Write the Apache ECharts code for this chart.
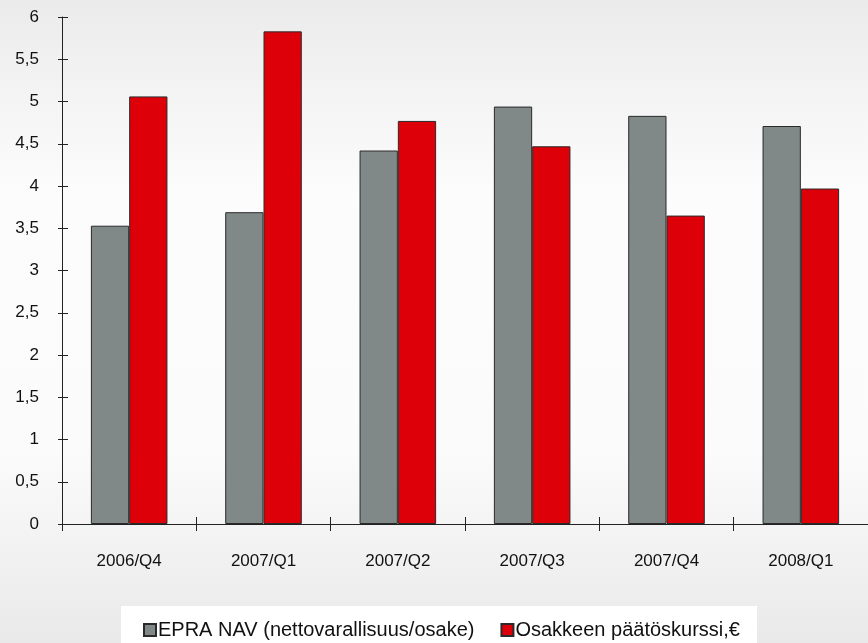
<!DOCTYPE html>
<html>
<head>
<meta charset="utf-8">
<script src="https://cdn.jsdelivr.net/npm/echarts@6/dist/echarts.min.js"></script>
<style>
  html, body { margin: 0; padding: 0; }
  #chart { width: 868px; height: 643px; }
</style>
</head>
<body>
<div id="chart"></div>
<script>
// Quarter labels on the category axis
const quarters = ['2006/Q4', '2007/Q1', '2007/Q2', '2007/Q3', '2007/Q4', '2008/Q1'];
// EPRA NAV per share
const navValues = [3.53, 3.69, 4.42, 4.94, 4.83, 4.71];
// Closing share price, EUR
const priceValues = [5.06, 5.83, 4.77, 4.47, 3.65, 3.97];
// Series names shown in the legend
const seriesNames = ['EPRA NAV (nettovarallisuus/osake)', 'Osakkeen päätöskurssi,€'];

const FONT = 'Liberation Sans, Arial, sans-serif';
const AXIS_COLOR = '#222';
const grid = { left: 62, top: 17, width: 810, height: 507 };

const chart = echarts.init(document.getElementById('chart'));
chart.setOption({
  animation: false,
  backgroundColor: {
    type: 'linear', x: 0, y: 0, x2: 0, y2: 1,
    colorStops: [
      { offset: 0, color: '#ebebeb' },
      { offset: 0.12, color: '#f2f2f2' },
      { offset: 0.3, color: '#fcfcfc' },
      { offset: 0.7, color: '#fbfbfb' },
      { offset: 1, color: '#e9e9e9' }
    ]
  },
  // white panel behind the legend
  graphic: [{
    type: 'rect', left: 121, top: 606, z: 0,
    shape: { width: 636, height: 37 },
    style: { fill: '#ffffff' }
  }],
  grid: grid,
  legend: {
    left: 143,
    top: 620,
    padding: 0,
    itemWidth: 12,
    itemHeight: 12,
    itemGap: 26,
    icon: 'rect',
    textStyle: { fontFamily: FONT, fontSize: 20, color: '#111', padding: [0, 0, 0, -3] },
    data: seriesNames
  },
  xAxis: [
    {
      type: 'category',
      data: quarters,
      boundaryGap: true,
      axisLine: { lineStyle: { color: AXIS_COLOR, width: 1 } },
      axisTick: { show: true, length: 7, lineStyle: { color: AXIS_COLOR } },
      axisLabel: { fontFamily: FONT, fontSize: 17, color: '#111', margin: 29 },
      splitLine: { show: false }
    },
    {
      // inward half of the crossing ticks
      type: 'category',
      data: quarters,
      position: 'bottom',
      boundaryGap: true,
      axisLine: { show: false },
      axisTick: { show: true, inside: true, length: 7, lineStyle: { color: AXIS_COLOR } },
      axisLabel: { show: false },
      splitLine: { show: false }
    }
  ],
  yAxis: [
    {
      type: 'value',
      min: 0,
      max: 6,
      interval: 0.5,
      axisLine: { show: true, lineStyle: { color: AXIS_COLOR, width: 1 } },
      axisTick: { show: false },
      axisLabel: {
        fontFamily: FONT, fontSize: 17, color: '#111', margin: 23,
        formatter: v => String(v).replace('.', ',')
      },
      splitLine: { show: false }
    },
    {
      // crossing ticks: shifted right so they straddle the axis line
      type: 'value',
      position: 'left',
      offset: -6,
      min: 0,
      max: 6,
      interval: 0.5,
      axisLine: { show: false },
      axisTick: { show: true, length: 10, lineStyle: { color: AXIS_COLOR } },
      axisLabel: { show: false },
      splitLine: { show: false }
    }
  ],
  series: [
    {
      name: seriesNames[0],
      type: 'bar',
      data: navValues,
      barGap: '0%',
      barCategoryGap: '43%',
      itemStyle: { color: '#808888', borderColor: '#2a2a2a', borderWidth: 1 }
    },
    {
      name: seriesNames[1],
      type: 'bar',
      data: priceValues,
      barGap: '0%',
      barCategoryGap: '43%',
      itemStyle: { color: '#de0008', borderColor: '#2a2a2a', borderWidth: 1 }
    }
  ]
});
</script>
</body>
</html>
